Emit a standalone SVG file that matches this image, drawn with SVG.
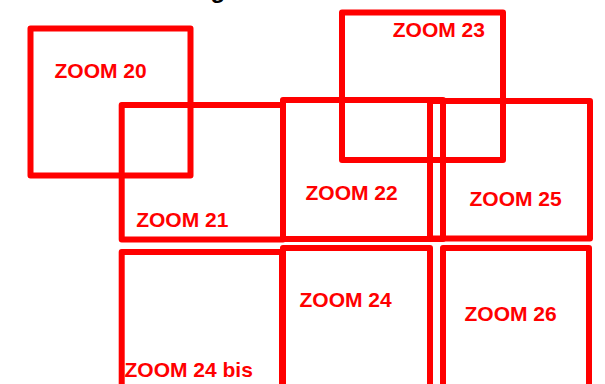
<svg xmlns="http://www.w3.org/2000/svg" width="605" height="384" viewBox="0 0 605 384">
<style>
.box{fill:none;stroke:#ff0000;stroke-width:6;stroke-linejoin:round}
.lbl{font-family:"Liberation Sans",Arial,sans-serif;font-weight:bold;font-size:21px;fill:#ff0000}
.ttl{font-family:"Liberation Sans",Arial,sans-serif;font-weight:bold;font-size:24px;fill:#000000}
</style>
<rect width="605" height="384" fill="#ffffff"/>
<text class="ttl" x="210.5" y="-2">g</text>
<g id="zoom20"><rect class="box" x="30.5" y="28.5" width="160" height="147"/><text class="lbl" x="54.5" y="78.3">ZOOM 20</text></g>
<g id="zoom21"><rect class="box" x="121.7" y="105" width="161.3" height="134.5"/><text class="lbl" x="136.2" y="226.7">ZOOM 21</text></g>
<g id="zoom22"><rect class="box" x="283" y="100" width="160" height="139"/><text class="lbl" x="305.5" y="200">ZOOM 22</text></g>
<g id="zoom23"><rect class="box" x="342" y="12.5" width="161" height="147.5"/><text class="lbl" x="392.8" y="36.7">ZOOM 23</text></g>
<g id="zoom25"><rect class="box" x="430" y="101" width="160" height="137.5"/><text class="lbl" x="469.5" y="206">ZOOM 25</text></g>
<g id="zoom24bis"><rect class="box" x="121.7" y="252" width="160.3" height="160"/><text class="lbl" x="124.5" y="376.7">ZOOM 24 bis</text></g>
<g id="zoom24"><rect class="box" x="283" y="248" width="147" height="160"/><text class="lbl" x="299.5" y="306.7">ZOOM 24</text></g>
<g id="zoom26"><rect class="box" x="443" y="248" width="146" height="160"/><text class="lbl" x="464.5" y="320.7">ZOOM 26</text></g>
<g id="connectors"/>
</svg>
